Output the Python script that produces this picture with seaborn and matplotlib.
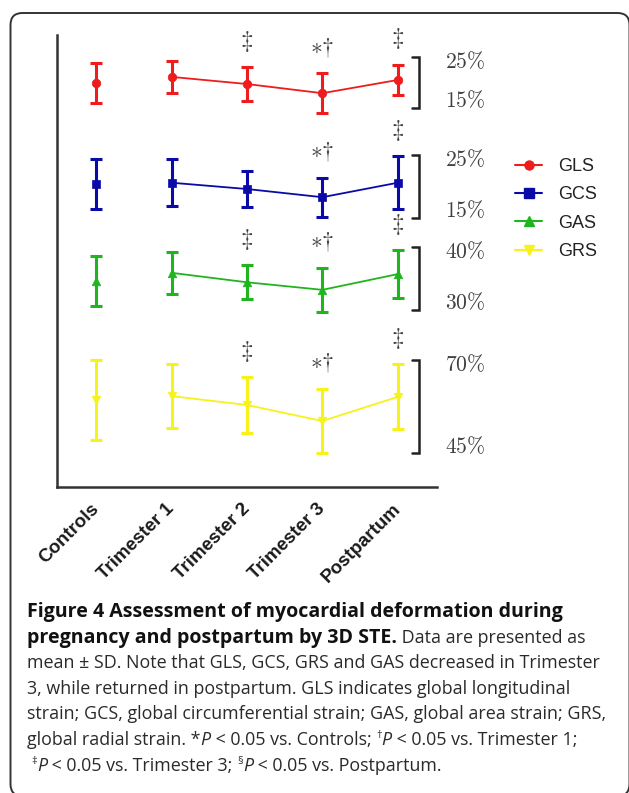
import matplotlib
matplotlib.use("Agg")
import matplotlib.pyplot as plt
import numpy as np
import pandas as pd
import seaborn as sns
from matplotlib.lines import Line2D
from matplotlib.patches import FancyBboxPatch
from matplotlib.transforms import IdentityTransform

sns.set_style("white")
plt.rcParams["font.family"] = ["Liberation Sans", "DejaVu Sans"]
plt.rcParams["mathtext.fontset"] = "cm"

# ---- data (percent, mean and SD) ----
groups = ["Controls", "Trimester 1", "Trimester 2", "Trimester 3", "Postpartum"]
series = ["GLS", "GCS", "GAS", "GRS"]

gls_mean = [19.9, 21.1, 19.7, 17.9, 20.5]
gls_sd = [3.9, 3.2, 3.3, 3.9, 3.0]
gcs_mean = [20.4, 20.6, 19.6, 18.3, 20.6]
gcs_sd = [4.0, 3.7, 2.9, 3.1, 4.2]
gas_mean = [34.6, 35.9, 34.4, 33.2, 35.7]
gas_sd = [4.0, 3.3, 2.7, 3.5, 3.8]
grs_mean = [59.2, 60.3, 57.9, 53.6, 60.1]
grs_sd = [10.8, 8.5, 7.4, 8.7, 8.7]

# significance symbols above each group
gls_marks = ["", "", "‡", "*†", "‡"]
gcs_marks = ["", "", "", "*†", "‡"]
gas_marks = ["", "", "‡", "*†", "‡"]
grs_marks = ["", "", "‡", "*†", "‡"]

# scale bar ends (low, high) for each series
gls_scale = [15, 25]
gcs_scale = [15, 25]
gas_scale = [30, 40]
grs_scale = [45, 70]

# ---- styling / layout ----
W, H = 629, 793
colors = ["#ee1c1c", "#0a0aa8", "#1fb51f", "#f7f21a"]
markers = ["o", "s", "^", "v"]
band_px = [(57, 108), (155, 218), (247, 310), (360, 453)]  # bracket top/bottom (px)
X0, X1, YT, YB = 57, 437, 35, 487
XLIM = (-0.52, 4.52)
mark_tex = {"‡": (r"$\ddagger$", 18, 9.5), "*†": (r"${\ast}{\dagger}$", 17, 10.5)}


def rect(x0, y0, x1, y1):
    return [x0 / W, 1 - y1 / H, (x1 - x0) / W, (y1 - y0) / H]


fig = plt.figure(figsize=(W / 100, H / 100), dpi=100)

# outer axes carrying the left and bottom spines
ax = fig.add_axes(rect(X0, YT, X1, YB))
ax.set_xlim(*XLIM)
ax.set_ylim(0, 1)
for side in ["top", "right"]:
    ax.spines[side].set_visible(False)
for side in ["left", "bottom"]:
    ax.spines[side].set_color("#333333")
    ax.spines[side].set_linewidth(1.8)
ax.set_xticks(range(len(groups)))
ax.set_xticklabels(groups, rotation=45, ha="right", va="center",
                   rotation_mode="anchor", fontweight="bold", fontsize=13.5,
                   color="#1a1a1a")
ax.set_yticks([0.352, 0.708])
ax.set_yticklabels([])
ax.tick_params(axis="x", length=6, width=1.8, color="#333333", pad=8)
ax.tick_params(axis="y", length=3, width=1.5, color="#333333")
ax.patch.set_alpha(0)

all_means = [gls_mean, gcs_mean, gas_mean, grs_mean]
all_sds = [gls_sd, gcs_sd, gas_sd, grs_sd]
all_marks = [gls_marks, gcs_marks, gas_marks, grs_marks]
all_scales = [gls_scale, gcs_scale, gas_scale, grs_scale]

handles = []
for k, name in enumerate(series):
    df = pd.DataFrame({"group": groups, "pos": np.arange(len(groups)),
                       "mean": all_means[k], "sd": all_sds[k]})
    lo, hi = all_scales[k]
    top, bot = band_px[k]
    sub = fig.add_axes(rect(X0, top, X1, bot))
    sub.set_xlim(*XLIM)
    sub.set_ylim(lo, hi)
    sub.axis("off")
    c = colors[k]

    # line connects the pregnancy / postpartum visits only
    sns.lineplot(data=df.iloc[1:], x="pos", y="mean", color=c, lw=1.3,
                 ax=sub, legend=False)
    sub.errorbar(df["pos"], df["mean"], yerr=df["sd"], fmt="none", ecolor=c,
                 elinewidth=2.2, capsize=4.4, capthick=2.2, zorder=2)
    sns.scatterplot(data=df, x="pos", y="mean", marker=markers[k], color=c,
                    edgecolor=c, s=38, ax=sub, legend=False, zorder=3)
    for art in sub.lines + sub.collections:
        art.set_clip_on(False)
    sub.set_xlim(*XLIM)
    sub.set_ylim(lo, hi)

    # scale bracket with its two percentage labels
    tr = sub.get_yaxis_transform()
    xb, xs = (419 - X0) / (X1 - X0), (412 - X0) / (X1 - X0)
    sub.plot([xs, xb, xb, xs], [hi, hi, lo, lo], color="#222222", lw=1.8,
             transform=tr, clip_on=False, solid_joinstyle="miter")
    xl = (445 - X0) / (X1 - X0)
    sub.annotate(rf"${hi}\%$", xy=(xl, hi), xycoords=tr, xytext=(0, -4),
                 textcoords="offset points", ha="left", va="center",
                 fontsize=15.5, color="#404040")
    sub.annotate(rf"${lo}\%$", xy=(xl, lo), xycoords=tr, xytext=(0, 4.5),
                 textcoords="offset points", ha="left", va="center",
                 fontsize=15.5, color="#404040")

    # significance symbols
    for i, m in enumerate(all_marks[k]):
        if m:
            tex, fs, off = mark_tex[m]
            sub.annotate(tex, xy=(i, df["mean"][i] + df["sd"][i]),
                         xytext=(0, off), textcoords="offset points",
                         ha="center", va="bottom", fontsize=fs, color="#444444")

    handles.append(Line2D([], [], color=c, lw=1.5, marker=markers[k],
                          markersize=6.5, label=name))

fig.legend(handles=handles, loc="upper left",
           bbox_to_anchor=(499 / W, 1 - 142 / H), frameon=False,
           fontsize=13, handlelength=1.5, handletextpad=0.85,
           labelspacing=0.62, labelcolor="#222222")

# outer rounded frame
frame = FancyBboxPatch((10.5, -3), 619, 783, boxstyle="round,pad=0,rounding_size=12",
                       transform=IdentityTransform(), fill=False,
                       edgecolor="#333333", lw=1.4)
fig.patches.append(frame)

# ---- caption ----
cap_font = ["Open Sans", "DejaVu Sans"]
cap_size = 12.9
bold_size = 14.1
caption = [
    [("Figure 4 Assessment of myocardial deformation during", "bold")],
    [("pregnancy and postpartum by 3D STE.", "bold"), (" Data are presented as", "normal")],
    [("mean ± SD. Note that GLS, GCS, GRS and GAS decreased in Trimester", "normal")],
    [("3, while returned in postpartum. GLS indicates global longitudinal", "normal")],
    [("strain; GCS, global circumferential strain; GAS, global area strain; GRS,", "normal")],
    [("global radial strain. *", "normal"), ("P", "italic"),
     (" < 0.05 vs. Controls; ", "normal"), ("†", "sup"), ("P", "italic"),
     (" < 0.05 vs. Trimester 1;", "normal")],
    [(" ", "normal"), ("‡", "sup"), ("P", "italic"),
     (" < 0.05 vs. Trimester 3; ", "normal"), ("§", "sup"), ("P", "italic"),
     (" < 0.05 vs. Postpartum.", "normal")],
]
renderer = fig.canvas.get_renderer()


def run_width(txt, kw):
    a = fig.text(0, 0, "l" + txt + "l", **kw)
    b = fig.text(0, 0, "ll", **kw)
    w = a.get_window_extent(renderer).width - b.get_window_extent(renderer).width
    a.remove()
    b.remove()
    return w


baseline0, step = 617, 25.6
for li, runs in enumerate(caption):
    x = 27
    yb = baseline0 + li * step
    for txt, style in runs:
        kw = dict(fontsize=cap_size, family=cap_font, color="#2a2a2a")
        dy = 0
        if style == "bold":
            kw["fontweight"] = "bold"
            kw["fontsize"] = bold_size
            kw["color"] = "#111111"
        elif style == "italic":
            kw["fontstyle"] = "italic"
        elif style == "sup":
            kw["fontsize"] = cap_size * 0.62
            dy = 7
        fig.text(x / W, 1 - (yb - dy) / H, txt, ha="left", va="baseline", **kw)
        x += run_width(txt, kw)

fig.savefig("out.png", dpi=100, facecolor="white")
